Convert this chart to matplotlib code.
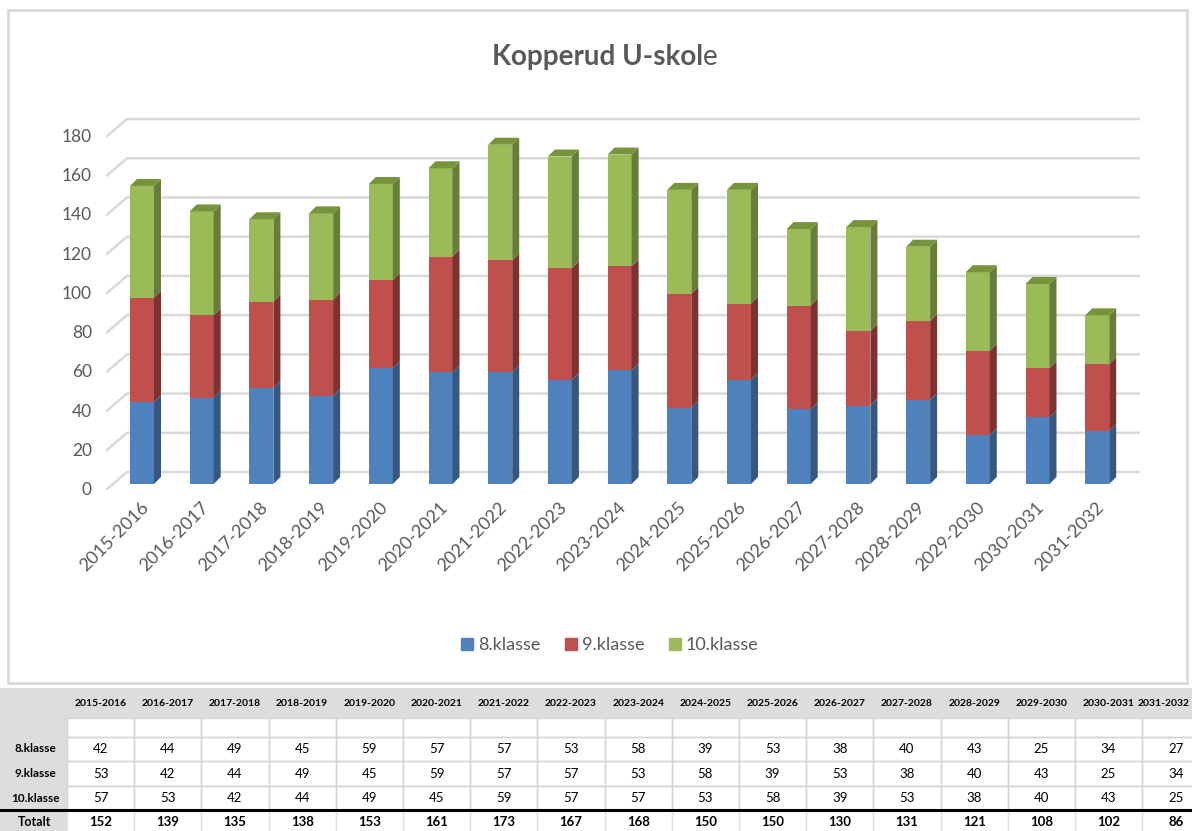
import matplotlib.pyplot as plt
from matplotlib.patches import Polygon, Rectangle
from matplotlib.lines import Line2D

# data
years = ["2015-2016", "2016-2017", "2017-2018", "2018-2019", "2019-2020",
         "2020-2021", "2021-2022", "2022-2023", "2023-2024", "2024-2025",
         "2025-2026", "2026-2027", "2027-2028", "2028-2029", "2029-2030",
         "2030-2031", "2031-2032"]
k8 = [42, 44, 49, 45, 59, 57, 57, 53, 58, 39, 53, 38, 40, 43, 25, 34, 27]
k9 = [53, 42, 44, 49, 45, 59, 57, 57, 53, 58, 39, 53, 38, 40, 43, 25, 34]
k10 = [57, 53, 42, 44, 49, 45, 59, 57, 57, 53, 58, 39, 53, 38, 40, 43, 25]
series_names = ["8.klasse", "9.klasse", "10.klasse"]
yticks = [0, 20, 40, 60, 80, 100, 120, 140, 160, 180]

front = ["#4F81BD", "#C0504D", "#9BBB59"]
side = ["#36587F", "#7E3230", "#677E3A"]
top_col = "#77933C"
grid = "#D9D9D9"
txt = "#595959"

W, H = 1192, 831
fig = plt.figure(figsize=(W / 100, H / 100), dpi=100)

bg = fig.add_axes([0, 0, 1, 1])
bg.set_xlim(0, W)
bg.set_ylim(H, 0)
bg.axis("off")

# chart frame
bg.add_patch(Rectangle((8, 10), 1179, 673, fill=False, ec=grid, lw=2))

# pseudo 3D plot area (front floor edge -> back wall)
PX0, PXS, PY0, PYS = 135, 59.7, 490, 1.961
a = (106 - PX0) / PXS
b = (1140 - PX0) / PXS
ax = fig.add_axes([106 / W, (H - PY0) / H, (1140 - 106) / W, (PY0 - 116) / H])
ax.set_xlim(a, b)
ax.set_ylim(0, (PY0 - 116) / PYS)
ax.axis("off")

DX, DY = 21 / PXS, 18 / PYS        # wall depth
FX, FY = 7 / PXS, 6 / PYS          # bar front offset
SX, SY = 7 / PXS, 7 / PYS          # bar depth
bw = 24 / PXS

for v in yticks:
    ax.plot([a, a + DX, b], [v, v + DY, v + DY], color=grid, lw=1.8,
            zorder=0, solid_capstyle="butt")
    ax.text(a - 14 / PXS, v, str(v), ha="right", va="center", fontsize=12.5,
            color=txt, family="Lato", clip_on=False)

series = [k8, k9, k10]
for i in range(len(years)):
    xc = i + FX
    xl, xr = xc - bw / 2, xc + bw / 2
    base = 0
    for s, vals in enumerate(series):
        v = vals[i]
        b0, b1 = base + FY, base + v + FY
        ax.bar(xc, v, bw, bottom=b0, color=front[s], lw=0, zorder=2)
        ax.add_patch(Polygon([(xr, b0), (xr + SX, b0 + SY), (xr + SX, b1 + SY), (xr, b1)],
                             closed=True, fc=side[s], lw=0, zorder=2))
        base += v
    t = base + FY
    ax.add_patch(Polygon([(xl, t), (xr, t), (xr + SX, t + SY), (xl + SX, t + SY)],
                         closed=True, fc=top_col, lw=0, zorder=2))
    ax.text(xc + 0.07, -7.6, years[i], rotation=45, rotation_mode="anchor",
            ha="right", va="center", fontsize=13, color=txt, family="Lato",
            clip_on=False)

# title, last letter not bold
t1 = fig.text(0, 1 - 65 / H, "Kopperud U-skol", fontsize=20, fontweight="bold",
              color=txt, family="Lato", va="baseline")
t2 = fig.text(0, 1 - 65 / H, "e", fontsize=20, color=txt, family="Lato", va="baseline")
fig.canvas.draw()
r = fig.canvas.get_renderer()
w1 = t1.get_window_extent(r).width
w2 = t2.get_window_extent(r).width
x0 = 605 - (w1 + w2) / 2
t1.set_x(x0 / W)
t2.set_x((x0 + w1) / W)

# legend
handles = [Line2D([], [], marker="s", ls="", ms=9, color=c) for c in front]
fig.legend(handles, series_names, loc="center", bbox_to_anchor=(610 / W, 1 - 645 / H),
           ncol=3, frameon=False, handlelength=0.6, handletextpad=0.3,
           columnspacing=1.4, prop={"family": "Lato", "size": 13}, labelcolor=txt)

# table under the chart
tf = "Lato"
rows = [688, 718, 737, 761, 786, 810, 836]
c0, cw = 67, 67.2
bg.add_patch(Rectangle((0, rows[0]), W, rows[1] - rows[0], fc="#DDDDDD", lw=0))
bg.add_patch(Rectangle((0, rows[1]), c0, rows[-1] - rows[1], fc="#DDDDDD", lw=0))
for i, yr in enumerate(years):
    cx = c0 + cw * i
    for r0, r1 in zip(rows[1:5], rows[2:6]):
        bg.add_patch(Rectangle((cx, r0), cw, r1 - r0, fill=False, ec="#D4D4D4", lw=1))
    bg.add_patch(Rectangle((cx, rows[5]), cw, rows[6] - rows[5], fill=False, ec="#E4E4E4", lw=1))
    hx = min(cx + cw / 2, W - 28)
    bg.text(hx, (rows[0] + rows[1]) / 2, yr, ha="center", va="center",
            fontsize=7.5, fontweight="bold", family=tf)
    for k, vals in enumerate(series):
        bg.text(cx + cw / 2, (rows[k + 2] + rows[k + 3]) / 2, str(vals[i]),
                ha="center", va="center", fontsize=9.5, family=tf)
    bg.text(cx + cw / 2, 822, str(k8[i] + k9[i] + k10[i]), ha="center", va="center",
            fontsize=9.5, fontweight="bold", family=tf)
for k, name in enumerate(series_names):
    bg.text(35, (rows[k + 2] + rows[k + 3]) / 2, name, ha="center", va="center",
            fontsize=8.5, fontweight="bold", family=tf)
bg.text(35, 822, "Totalt", ha="center", va="center", fontsize=9, fontweight="bold", family=tf)
bg.plot([0, W], [rows[5], rows[5]], color="black", lw=2.2)

fig.savefig("out.png", dpi=100)
